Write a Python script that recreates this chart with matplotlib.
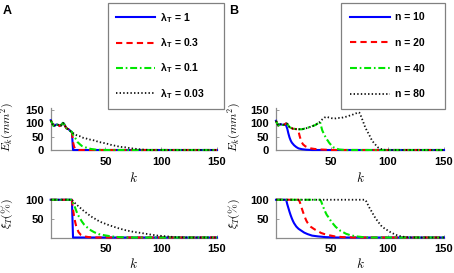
import matplotlib
matplotlib.use("Agg")
import matplotlib.pyplot as plt

plt.rcParams["font.family"] = ["Liberation Sans", "DejaVu Sans"]
plt.rcParams["mathtext.fontset"] = "cm"
plt.rcParams["lines.scale_dashes"] = False

# ----------------------------
# Data
# ----------------------------

# Panel A, E_k: all lambda values share the curve up to k = 20
k_common_a = [1, 2, 3, 4, 5, 6, 7, 8, 9, 10, 11, 12, 13, 14, 15, 16, 17, 18, 19, 20]
e_common_a = [112, 104, 94, 90, 93, 96, 95, 94, 90, 92, 97, 102, 98, 90, 82, 80, 78, 74, 70, 68]

k_ea_l1 = [21, 150]
e_ea_l1 = [0, 0]
k_ea_l03 = [21, 22, 23, 24, 26, 150]
e_ea_l03 = [30, 12, 5, 2, 0, 0]
k_ea_l01 = [21, 23, 25, 27, 29, 31, 34, 37, 42, 48, 150]
e_ea_l01 = [58, 45, 30, 22, 15, 12, 7, 4, 1, 0, 0]
k_ea_l003 = [21, 23, 25, 27, 29, 31, 33, 35, 38, 41, 44, 47, 50, 53, 56, 59, 62, 65, 68, 72, 76, 80, 85, 90, 150]
e_ea_l003 = [64, 58, 54, 52, 47, 45, 43, 40, 38, 35, 30, 28, 25, 22, 18, 16, 13, 11, 10, 7, 5, 3, 1, 0, 0]

# Panel A, xi_T (%)
k_xa_l1 = [1, 20, 21, 150]
x_xa_l1 = [100, 100, 0, 0]
k_xa_l03 = [1, 20, 21, 22, 23, 24, 26, 28, 31, 35, 40, 150]
x_xa_l03 = [100, 100, 75, 55, 40, 28, 14, 7, 3, 1, 0, 0]
k_xa_l01 = [1, 20, 21, 23, 25, 27, 29, 31, 34, 37, 40, 44, 49, 55, 62, 70, 150]
x_xa_l01 = [100, 100, 92, 78, 62, 52, 42, 34, 26, 19, 14, 9, 6, 3, 1, 0, 0]
k_xa_l003 = [1, 20, 22, 25, 30, 37, 45, 52, 60, 67, 75, 82, 90, 97, 105, 112, 125, 150]
x_xa_l003 = [100, 100, 93, 85, 72, 56, 42, 34, 26, 20, 15, 12, 8, 5, 3, 1, 0, 0]

# Panel B, E_k: shared start of the curves
k_common_b = [1, 2, 3, 4, 5, 6, 7, 8, 9, 10, 11, 12, 13, 14, 15, 16, 18, 20,
              22, 24, 26, 28, 30, 32, 34, 36, 38, 40]
e_common_b = [110, 100, 92, 95, 97, 96, 94, 95, 97, 100, 98, 92, 86, 84, 82, 80, 79, 78,
              78, 78, 80, 82, 85, 88, 91, 94, 100, 106]

k_eb_n10 = [10, 11, 12, 13, 14, 15, 17, 19, 21, 24, 28, 33, 150]
e_eb_n10 = [92, 80, 62, 47, 36, 28, 18, 11, 6, 3, 1, 0, 0]
k_eb_n20 = [21, 22, 23, 24, 25, 27, 29, 32, 35, 40, 45, 50, 150]
e_eb_n20 = [70, 52, 38, 28, 21, 14, 10, 6, 4, 2, 1, 0, 0]
k_eb_n40 = [41, 42, 43, 44, 45, 46, 47, 48, 49, 50, 52, 54, 57, 62, 150]
e_eb_n40 = [90, 74, 65, 56, 48, 40, 35, 28, 23, 18, 10, 6, 2, 0, 0]
k_eb_n80 = [42, 44, 46, 48, 50, 52, 54, 56, 58, 60, 62, 64, 66, 68, 70, 72, 74, 75, 76, 77,
            78, 79, 80, 81, 82, 83, 84, 85, 86, 87, 88, 89, 90, 91, 92, 94, 96, 98, 150]
e_eb_n80 = [115, 122, 125, 122, 120, 118, 119, 121, 120, 122, 124, 126, 129, 131, 135, 138, 142, 140, 132, 120,
            110, 98, 87, 78, 70, 62, 54, 45, 37, 31, 26, 21, 16, 11, 8, 4, 2, 0, 0]

# Panel B, xi_T (%)
k_xb_n10 = [1, 10, 11, 12, 13, 14, 15, 16, 17, 19, 21, 23, 26, 29, 33, 38, 45, 55, 150]
x_xb_n10 = [100, 100, 88, 78, 68, 59, 51, 44, 38, 29, 23, 19, 13, 9, 5, 3, 1, 0, 0]
k_xb_n20 = [1, 21, 22, 23, 24, 25, 26, 27, 28, 29, 30, 32, 35, 38, 41, 44, 48, 53, 60, 70, 150]
x_xb_n20 = [100, 100, 95, 86, 76, 67, 59, 51, 44, 39, 35, 28, 22, 17, 12, 9, 6, 3, 1, 0, 0]
k_xb_n40 = [1, 40, 41, 42, 43, 44, 45, 46, 47, 48, 50, 52, 54, 56, 58, 60, 63, 67, 72, 78, 85, 150]
x_xb_n40 = [100, 100, 96, 88, 80, 73, 66, 60, 56, 52, 42, 35, 28, 23, 18, 15, 10, 6, 3, 1, 0, 0]
k_xb_n80 = [1, 80, 81, 82, 84, 86, 88, 90, 92, 94, 96, 98, 100, 103, 106, 109, 112, 116, 122, 150]
x_xb_n80 = [100, 100, 96, 90, 78, 68, 57, 48, 40, 32, 27, 22, 19, 13, 9, 5, 3, 1, 0, 0]

labels_a = ["λ$_\\mathregular{T}$ = 1", "λ$_\\mathregular{T}$ = 0.3",
            "λ$_\\mathregular{T}$ = 0.1", "λ$_\\mathregular{T}$ = 0.03"]
labels_b = ["n = 10", "n = 20", "n = 40", "n = 80"]

# line styles: blue solid, red dashed, green dash-dot, black dotted
styles = [
    dict(color="#0000ff", linestyle="-", lw=1.5),
    dict(color="#ff0000", linestyle=(0, (4.5, 3)), lw=1.5),
    dict(color="#00e600", linestyle=(0, (5, 2, 1.2, 2)), lw=1.5),
    dict(color="#111111", linestyle=(0, (1, 1.6)), lw=1.3),
]

W, H = 454, 273
fig = plt.figure(figsize=(W / 100, H / 100), dpi=100)


def px_axes(left, top, right, bottom):
    return fig.add_axes([left / W, 1 - bottom / H, (right - left) / W, (bottom - top) / H])


def style_axes(ax, ylim, yticks):
    ax.set_xlim(1, 150)
    ax.set_ylim(*ylim)
    ax.set_xticks([50, 100, 150])
    ax.set_yticks(yticks)
    for s in ["top", "right"]:
        ax.spines[s].set_visible(False)
    for s in ["left", "bottom"]:
        ax.spines[s].set_color("#8c8c8c")
        ax.spines[s].set_linewidth(0.9)
        ax.spines[s].set_zorder(0)
    ax.tick_params(direction="in", length=2.5, width=0.6, color="#8c8c8c",
                   labelsize=8, pad=5, labelcolor="black")
    for t in ax.get_xticklabels() + ax.get_yticklabels():
        t.set_fontweight("bold")


# ----------------------------
# Panel A
# ----------------------------
ax_a1 = px_axes(50.7, 108, 217, 150)
series_a1 = [(k_common_a + k_ea_l1, e_common_a + e_ea_l1),
             (k_common_a + k_ea_l03, e_common_a + e_ea_l03),
             (k_common_a + k_ea_l01, e_common_a + e_ea_l01),
             (k_common_a + k_ea_l003, e_common_a + e_ea_l003)]
handles_a = []
for (kk, ee), st, lab in zip(series_a1, styles, labels_a):
    h, = ax_a1.plot(kk, ee, label=lab, clip_on=False, **st)
    handles_a.append(h)
style_axes(ax_a1, (0, 158), [0, 50, 100, 150])

ax_a2 = px_axes(50.7, 199, 217, 237.5)
series_a2 = [(k_xa_l1, x_xa_l1), (k_xa_l03, x_xa_l03),
             (k_xa_l01, x_xa_l01), (k_xa_l003, x_xa_l003)]
for (kk, xx), st in zip(series_a2, styles):
    ax_a2.plot(kk, xx, clip_on=False, **st)
style_axes(ax_a2, (0, 102), [50, 100])

# ----------------------------
# Panel B
# ----------------------------
ax_b1 = px_axes(276, 108, 444, 150)
series_b1 = [(k_common_b[:10] + k_eb_n10, e_common_b[:10] + e_eb_n10),
             (k_common_b[:18] + k_eb_n20, e_common_b[:18] + e_eb_n20),
             (k_common_b + k_eb_n40, e_common_b + e_eb_n40),
             (k_common_b + k_eb_n80, e_common_b + e_eb_n80)]
handles_b = []
for (kk, ee), st, lab in zip(series_b1, styles, labels_b):
    h, = ax_b1.plot(kk, ee, label=lab, clip_on=False, **st)
    handles_b.append(h)
style_axes(ax_b1, (0, 158), [0, 50, 100, 150])

ax_b2 = px_axes(276, 199, 444, 237.5)
series_b2 = [(k_xb_n10, x_xb_n10), (k_xb_n20, x_xb_n20),
             (k_xb_n40, x_xb_n40), (k_xb_n80, x_xb_n80)]
for (kk, xx), st in zip(series_b2, styles):
    ax_b2.plot(kk, xx, clip_on=False, **st)
style_axes(ax_b2, (0, 102), [50, 100])

# ----------------------------
# Labels
# ----------------------------
for ax in [ax_a1, ax_b1]:
    ax.set_xlabel(r"$k$", fontsize=9.5)
    ax.xaxis.set_label_coords(0.5, -0.49)
for ax in [ax_a2, ax_b2]:
    ax.set_xlabel(r"$k$", fontsize=9.5)
    ax.xaxis.set_label_coords(0.5, -0.5)

for xc in [7.5, 234.5]:
    fig.text(xc / W, 1 - 126.5 / H, r"$E_k(mm^2)$", fontsize=8.5, rotation=90,
             ha="center", va="center")
    fig.text(xc / W, 1 - 213.5 / H, r"$\xi_T(\%)$", fontsize=8.5, rotation=90,
             ha="center", va="center")

fig.text(3 / W, 1 - 4.5 / H, "A", fontsize=9, fontweight="bold", va="top", ha="left")
fig.text(229 / W, 1 - 4.5 / H, "B", fontsize=9, fontweight="bold", va="top", ha="left")

# ----------------------------
# Legends
# ----------------------------
leg_kw = dict(loc="upper left", mode="expand", bbox_transform=fig.transFigure,
              handlelength=3.8, handletextpad=0.45, borderaxespad=0,
              fancybox=False, framealpha=1, edgecolor="#808080",
              prop=dict(size=7.5, weight="bold"))
leg_a = fig.legend(handles_a, labels_a, bbox_to_anchor=(108 / W, 0.5, 115.5 / W, 1 - 3 / H - 0.5),
                   borderpad=0.75, labelspacing=1.12, **leg_kw)
leg_b = fig.legend(handles_b, labels_b, bbox_to_anchor=(341 / W, 0.5, 104 / W, 1 - 3 / H - 0.5),
                   borderpad=0.9, labelspacing=1.5, **leg_kw)
for leg in [leg_a, leg_b]:
    leg.get_frame().set_linewidth(0.9)

fig.savefig("out.png", dpi=100)
